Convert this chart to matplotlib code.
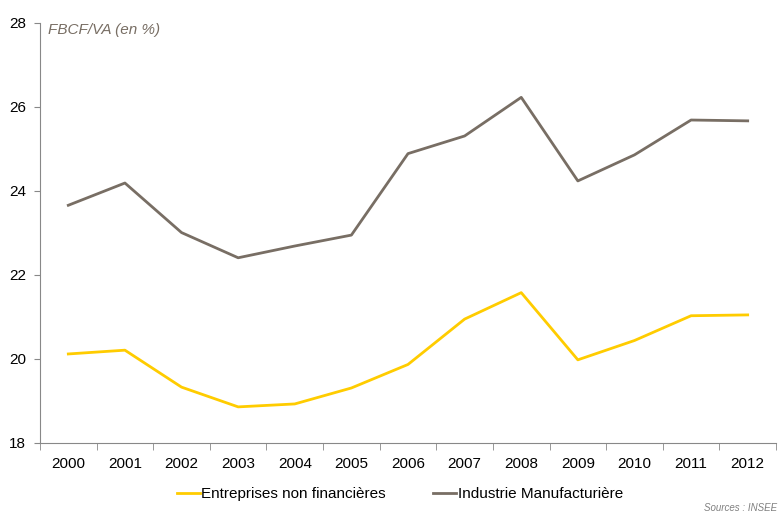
import numpy as np
import matplotlib.pyplot as plt

years = ['2000', '2001', '2002', '2003', '2004', '2005', '2006',
         '2007', '2008', '2009', '2010', '2011', '2012']
entreprises = [20.12, 20.21, 19.33, 18.86, 18.93, 19.31, 19.87,
               20.95, 21.58, 19.98, 20.44, 21.03, 21.05]
industrie = [23.66, 24.19, 23.01, 22.41, 22.69, 22.95, 24.89,
             25.31, 26.23, 24.24, 24.86, 25.69, 25.67]

plt.rcParams['font.family'] = ['Liberation Sans', 'DejaVu Sans']

fig = plt.figure(figsize=(7.79, 5.12), dpi=100)
ax = fig.add_axes([40 / 779, 1 - 443 / 512, 736 / 779, 420 / 512])

x = np.arange(len(years))
ax.plot(x, entreprises, color='#FFCC00', lw=2, label='Entreprises non financières')
ax.plot(x, industrie, color='#786E64', lw=2, label='Industrie Manufacturière')

ax.set_xlim(-0.5, len(years) - 0.5)
ax.set_ylim(18, 28)
ax.set_yticks([18, 20, 22, 24, 26, 28])
ax.set_xticks(x)
ax.set_xticklabels(years)
ax.set_xticks(np.arange(len(years) + 1) - 0.5, minor=True)
ax.tick_params(axis='x', which='major', length=0, pad=10, labelsize=11)
ax.tick_params(axis='x', which='minor', length=5, color='#888888', direction='out')
ax.tick_params(axis='y', length=4, color='#888888', labelsize=11, pad=6)

for s in ['top', 'right']:
    ax.spines[s].set_visible(False)
for s in ['left', 'bottom']:
    ax.spines[s].set_color('#888888')

fig.text(48 / 779, 1 - 30 / 512, 'FBCF/VA (en %)', style='italic',
         color='#786E64', fontsize=11, va='center')
fig.text(777 / 779, 1 - 508 / 512, 'Sources : INSEE', style='italic',
         color='#808080', fontsize=7, va='center', ha='right')

fig.legend(loc='center', bbox_to_anchor=(400 / 779, 1 - 494 / 512), ncol=2,
           frameon=False, fontsize=11, handlelength=1.5, handletextpad=0.1,
           columnspacing=3.1)

fig.savefig('out.png', dpi=100)
